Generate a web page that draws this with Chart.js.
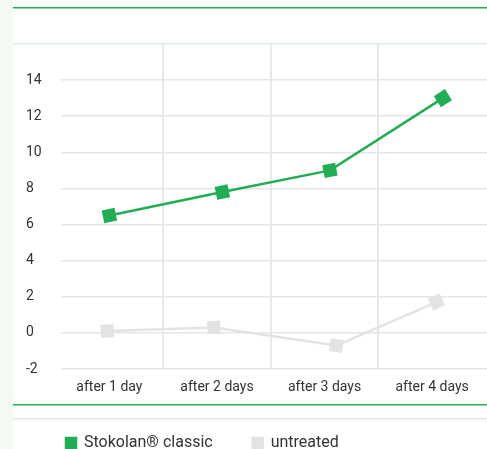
<!DOCTYPE html>
<html>
<head>
<meta charset="utf-8">
<script src="https://cdn.jsdelivr.net/npm/chart.js@4"></script>
<style>
  html, body { margin: 0; padding: 0; background: #fff; overflow: hidden; }
  #wrap { width: 487px; height: 449px; overflow: hidden; }
</style>
</head>
<body>
<div id="wrap"><canvas id="myChart" width="487" height="461"></canvas></div>
<script>
'use strict'
// categories and read-off values
let categories = ['after 1 day', 'after 2 days', 'after 3 days', 'after 4 days'];
let stokolanX = [1.0, 2.05, 3.05, 4.1];
let stokolanY = [6.5, 7.8, 9.0, 13.0];
let untreatedX = [0.98, 1.97, 3.11, 4.04];
let untreatedY = [0.1, 0.3, -0.7, 1.7];
let yTicks = [-2, 0, 2, 4, 6, 8, 10, 12, 14, 16];

let green = '#22ad55';
let grey = '#e3e3e3';
let font = 'Roboto, "DejaVu Sans", sans-serif';

function toPoints(xs, ys) {
    let pts = [];
    for (let i = 0; i < xs.length; i++) {
        pts.push({ x: xs[i], y: ys[i] });
    }
    return pts;
}

// markers turn with the segment that leads into them
function markerAngle(c) {
    let chart = c.chart;
    let sx = chart.scales.x, sy = chart.scales.y;
    if (!sx || !sy || c.raw === undefined) return 0;
    let data = chart.data.datasets[c.datasetIndex].data;
    let i = c.dataIndex;
    let a = i > 0 ? data[i - 1] : data[i];
    let b = i > 0 ? data[i] : data[i + 1];
    let dx = sx.getPixelForValue(b.x) - sx.getPixelForValue(a.x);
    let dy = sy.getPixelForValue(b.y) - sy.getPixelForValue(a.y);
    return Math.atan2(dy, dx) * 180 / Math.PI;
}

// page decoration: left strip and the framing rules
let decoPlugin = {
    id: 'deco',
    beforeDraw(chart) {
        let c = chart.ctx;
        let a = chart.chartArea;
        c.save();
        c.fillStyle = '#f4f9f3';
        c.fillRect(0, 0, 13, chart.height);
        c.fillStyle = green;
        c.fillRect(13, a.top - 37, chart.width - 13, 1.5);
        c.fillRect(13, a.bottom + 35, chart.width - 13, 1.5);
        c.fillStyle = '#dcefdf';
        c.fillRect(13, a.top - 1, chart.width - 13, 1.5);
        c.fillStyle = '#e6e6e6';
        c.fillRect(13, a.bottom + 49, chart.width - 13, 1.5);
        c.restore();
    }
};

let ctx = document.getElementById('myChart').getContext('2d');
let myChart = new Chart(ctx, {
    type: 'line',
    data: {
        datasets: [{
            label: 'Stokolan® classic',
            data: toPoints(stokolanX, stokolanY),
            borderColor: green,
            backgroundColor: green,
            borderWidth: 2.5,
            pointStyle: 'rect',
            pointRadius: 7.5,
            pointHoverRadius: 7.5,
            pointRotation: markerAngle,
            tension: 0,
            clip: false
        }, {
            label: 'untreated',
            data: toPoints(untreatedX, untreatedY),
            borderColor: grey,
            backgroundColor: grey,
            borderWidth: 2.5,
            pointStyle: 'rect',
            pointRadius: 7.5,
            pointHoverRadius: 7.5,
            pointRotation: markerAngle,
            tension: 0,
            clip: false
        }]
    },
    options: {
        responsive: false,
        animation: false,
        layout: { autoPadding: false, padding: { left: 26, right: 0, top: 44, bottom: 0 } },
        plugins: {
            tooltip: { enabled: false },
            legend: {
                position: 'bottom',
                align: 'start',
                labels: {
                    boxWidth: 10,
                    boxHeight: 10,
                    padding: 40,
                    color: '#333',
                    font: { family: font, size: 16 }
                }
            }
        },
        scales: {
            x: {
                type: 'linear',
                min: 0.55,
                max: 4.51,
                afterBuildTicks: function (scale) {
                    scale.ticks = [1, 1.5, 2, 2.5, 3, 3.5, 4].map(v => ({ value: v }));
                },
                afterFit: function (scale) { scale.height = 26; },
                border: { display: false },
                grid: {
                    drawTicks: false,
                    lineWidth: 2,
                    color: c => (c.tick && c.tick.value % 1 === 0.5) ? '#e8e8e8' : 'rgba(0,0,0,0)'
                },
                ticks: {
                    autoSkip: false,
                    maxRotation: 0,
                    padding: 10,
                    color: '#333',
                    font: { family: font, size: 14 },
                    callback: v => (v % 1 === 0) ? categories[v - 1] : ''
                }
            },
            y: {
                min: -2,
                max: 16,
                afterBuildTicks: function (scale) {
                    scale.ticks = yTicks.map(v => ({ value: v }));
                },
                afterFit: function (scale) { scale.width = 35; },
                border: { display: false },
                grid: {
                    drawTicks: false,
                    lineWidth: 1.5,
                    color: c => (c.tick && c.tick.value === 16) ? 'rgba(0,0,0,0)' : '#e6e6e6'
                },
                ticks: {
                    crossAlign: 'far',
                    padding: 8,
                    color: '#333',
                    font: { family: font, size: 14 },
                    callback: v => (v === 16) ? '' : v
                }
            }
        }
    },
    plugins: [decoPlugin]
});
</script>
</body>
</html>
